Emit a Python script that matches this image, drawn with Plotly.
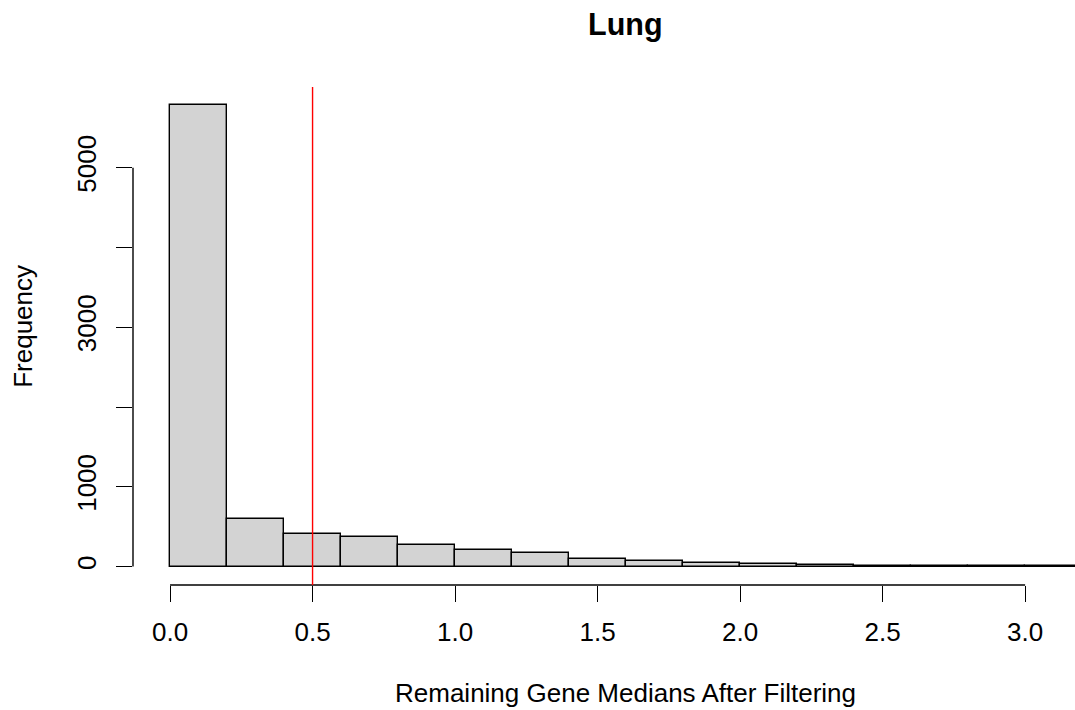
import plotly.graph_objects as go

# ---- data ----
bin_edges = [0.0, 0.2, 0.4, 0.6, 0.8, 1.0, 1.2, 1.4, 1.6, 1.8, 2.0, 2.2, 2.4, 2.6, 2.8, 3.0, 3.2]
counts = [5780, 600, 405, 372, 267, 213, 167, 94, 75, 50, 30, 21, 11, 1, 4, 3]
x_ticks = [0.0, 0.5, 1.0, 1.5, 2.0, 2.5, 3.0]
x_tick_labels = ["0.0", "0.5", "1.0", "1.5", "2.0", "2.5", "3.0"]
y_ticks = [0, 1000, 2000, 3000, 4000, 5000]
y_tick_labels = ["0", "1000", "", "3000", "", "5000"]
threshold = 0.5
title = "Lung"
x_title = "Remaining Gene Medians After Filtering"
y_title = "Frequency"

centers = [(a + b) / 2 for a, b in zip(bin_edges[:-1], bin_edges[1:])]
widths = [b - a for a, b in zip(bin_edges[:-1], bin_edges[1:])]

FONT = "Liberation Sans, Arial, Helvetica, sans-serif"
FS = 26
FS_TITLE = 30.5

fig = go.Figure()
fig.add_trace(go.Bar(
    x=centers, y=counts, width=widths,
    marker=dict(color="#d3d3d3", line=dict(color="black", width=1.4)),
    hoverinfo="x+y", showlegend=False,
))

ymax = max(counts)
pad = 0.04 * ymax

fig.update_layout(
    width=1075, height=710,
    margin=dict(l=133, r=0, t=86.5, b=125, pad=0),
    plot_bgcolor="white", paper_bgcolor="white",
    font=dict(family=FONT, size=FS, color="black"),
    bargap=0,
    xaxis=dict(
        range=[-0.13, 3.175], showgrid=False, zeroline=False, showline=False,
        tickmode="array", tickvals=x_ticks, ticktext=x_tick_labels,
        ticks="outside", ticklen=16, tickwidth=1.4, tickcolor="black",
        ticklabelstandoff=8,
        tickfont=dict(family=FONT, size=FS),
    ),
    yaxis=dict(
        range=[-pad, ymax + pad], showgrid=False, zeroline=False, showline=False,
        tickmode="array", tickvals=y_ticks, ticktext=y_tick_labels,
        ticks="outside", ticklen=16, tickwidth=1.4, tickcolor="black",
        tickangle=-90, ticklabelstandoff=10,
        tickfont=dict(family=FONT, size=FS),
    ),
    shapes=[
        # R-style axis lines spanning first to last tick
        dict(type="line", xref="paper", yref="y", x0=0, x1=0, y0=y_ticks[0], y1=y_ticks[-1],
             line=dict(color="black", width=1.4)),
        dict(type="line", xref="x", yref="paper", x0=x_ticks[0], x1=x_ticks[-1], y0=0, y1=0,
             line=dict(color="black", width=1.4)),
        # threshold line (abline)
        dict(type="line", xref="x", yref="paper", x0=threshold, x1=threshold, y0=0, y1=1,
             line=dict(color="red", width=1.4)),
    ],
    annotations=[
        dict(text="<b>" + title + "</b>", xref="paper", yref="paper", x=0.5223, y=1.125,
             xanchor="center", yanchor="middle", showarrow=False,
             font=dict(family=FONT, size=FS_TITLE)),
        dict(text=x_title, xref="paper", yref="paper", x=0.5223, y=-0.217,
             xanchor="center", yanchor="middle", showarrow=False,
             font=dict(family=FONT, size=FS)),
        dict(text=y_title, xref="paper", yref="paper", x=-0.117, y=0.52,
             xanchor="center", yanchor="middle", textangle=-90, showarrow=False,
             font=dict(family=FONT, size=FS)),
    ],
)

fig.write_html("out.html")
